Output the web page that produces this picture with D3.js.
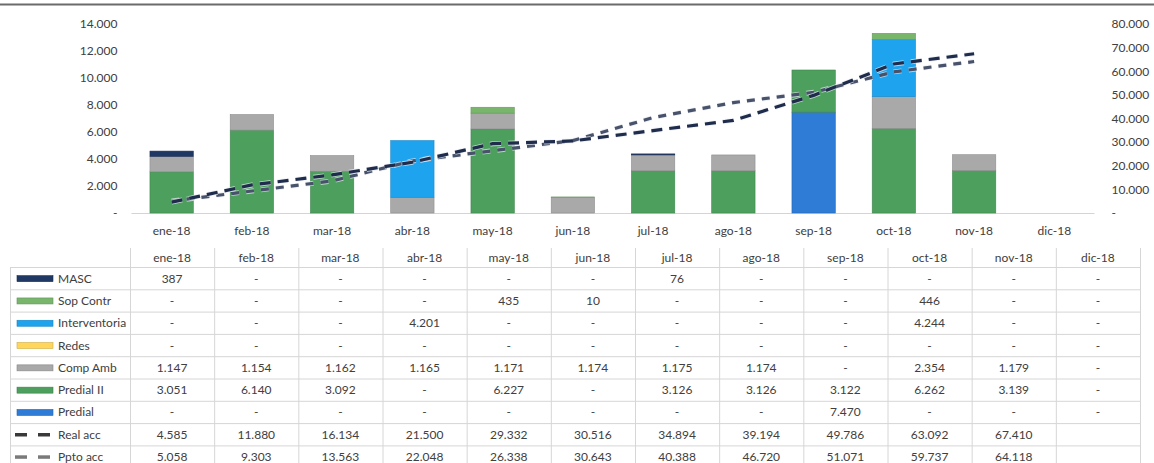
<!DOCTYPE html>
<html>
<head>
<meta charset="utf-8">
<script src="https://cdn.jsdelivr.net/npm/d3@7"></script>
<style>
  body { margin: 0; background: #fff; }
  svg { font-family: Lato, "Open Sans", sans-serif; }
</style>
</head>
<body>
<div id="chart"></div>
<script>
// Monthly execution chart (stacked bars + accumulated lines) with its Excel-style data table

var width = 1154,
    height = 463;

// ---- data ----
var months = ["ene-18", "feb-18", "mar-18", "abr-18", "may-18", "jun-18",
              "jul-18", "ago-18", "sep-18", "oct-18", "nov-18", "dic-18"];

var masc          = [387, 0, 0, 0, 0, 0, 76, 0, 0, 0, 0, 0];
var sopContr      = [0, 0, 0, 0, 435, 10, 0, 0, 0, 446, 0, 0];
var interventoria = [0, 0, 0, 4201, 0, 0, 0, 0, 0, 4244, 0, 0];
var redes         = [0, 0, 0, 0, 0, 0, 0, 0, 0, 0, 0, 0];
var compAmb       = [1147, 1154, 1162, 1165, 1171, 1174, 1175, 1174, 0, 2354, 1179, 0];
var predialII     = [3051, 6140, 3092, 0, 6227, 0, 3126, 3126, 3122, 6262, 3139, 0];
var predial       = [0, 0, 0, 0, 0, 0, 0, 0, 7470, 0, 0, 0];

var realAcc = [4585, 11880, 16134, 21500, 29332, 30516, 34894, 39194, 49786, 63092, 67410, null];
var pptoAcc = [5058, 9303, 13563, 22048, 26338, 30643, 40388, 46720, 51071, 59737, 64118, null];

var leftTicks  = [0, 2000, 4000, 6000, 8000, 10000, 12000, 14000];
var rightTicks = [0, 10000, 20000, 30000, 40000, 50000, 60000, 70000, 80000];

// bar series, bottom of the stack first (Excel order)
var barSeries = [
    {name: "Predial",       values: predial,       color: "#2e7cd6"},
    {name: "Predial II",    values: predialII,     color: "#4d9f5e"},
    {name: "Comp Amb",      values: compAmb,       color: "#a9a9a9"},
    {name: "Redes",         values: redes,         color: "#ffd659"},
    {name: "Interventoria", values: interventoria, color: "#1ea3ef"},
    {name: "Sop Contr",     values: sopContr,      color: "#79b66c"},
    {name: "MASC",          values: masc,          color: "#1f3864"}
];
var lineSeries = [
    {name: "Real acc", values: realAcc, color: "#1f2c4c", dash: "11,7"},
    {name: "Ppto acc", values: pptoAcc, color: "#48526a", dash: "8,7"}
];

// Spanish style numbers: 1.147
var locale = d3.formatLocale({decimal: ",", thousands: ".", grouping: [3], currency: ["$", ""]});
var fmt = locale.format(",.0f");
function cellText(v) {
    if (v === null) return "";
    return v === 0 ? "-" : fmt(v);
}

var svg = d3.select("#chart").
    append("svg").
    attr("width", width).
    attr("height", height);

// scanned frame line at the top
svg.append("line").
    attr("x1", 0).attr("x2", width).
    attr("y1", 4.5).attr("y2", 4.5).
    attr("stroke", "#6b6b6b").
    attr("stroke-width", 2);

// ---- chart part ----
var plotTop = 24, plotBottom = 213;
var x = d3.scaleBand().
    domain(months).
    range([131.5, 1094.5]).
    paddingInner(0.46).
    paddingOuter(0.23);
var yL = d3.scaleLinear().domain([0, 14000]).range([plotBottom, plotTop]);
var yR = d3.scaleLinear().domain([0, 80000]).range([plotBottom, plotTop]);

function xc(m) { return x(m) + x.bandwidth() / 2; }

// axes (no domain line, no tick marks, like Excel)
var axisFmt = function(v) { return v === 0 ? "-" : fmt(v); };
var gL = svg.append("g").
    attr("transform", "translate(131.5,0)").
    call(d3.axisLeft(yL).tickValues(leftTicks).tickSize(0).tickPadding(14).tickFormat(axisFmt));
var gR = svg.append("g").
    attr("transform", "translate(1094.5,0)").
    call(d3.axisRight(yR).tickValues(rightTicks).tickSize(0).tickPadding(17).tickFormat(axisFmt));
[gL, gR].forEach(function(g) {
    g.select(".domain").remove();
    g.selectAll("text").attr("font-size", 12).attr("fill", "#404040").
        attr("font-family", "Lato, 'Open Sans', sans-serif");
});

// category axis
svg.append("line").
    attr("x1", 131.5).attr("x2", 1094.5).
    attr("y1", plotBottom + 0.5).attr("y2", plotBottom + 0.5).
    attr("stroke", "#d4d4d4");
svg.append("g").
    selectAll("text").
    data(months).
    enter().
    append("text").
    attr("x", function(d) { return xc(d); }).
    attr("y", 235).
    attr("text-anchor", "middle").
    attr("font-size", 12).
    attr("fill", "#404040").
    text(function(d) { return d; });

// stacked bars
var rows = months.map(function(m, i) {
    var r = {month: m};
    barSeries.forEach(function(s) { r[s.name] = s.values[i]; });
    return r;
});
var stacked = d3.stack().keys(barSeries.map(function(s) { return s.name; }))(rows);

svg.append("g").
    selectAll("g").
    data(stacked).
    enter().
    append("g").
    attr("fill", function(d, i) { return barSeries[i].color; }).
    attr("stroke", function(d, i) { return d3.color(barSeries[i].color).darker(0.5); }).
    attr("stroke-width", 0.6).
    selectAll("rect").
    data(function(d) { return d.filter(function(p) { return p[1] - p[0] > 0; }); }).
    enter().
    append("rect").
    attr("x", function(d) { return x(d.data.month); }).
    attr("width", x.bandwidth()).
    attr("y", function(d) { return yL(d[1]); }).
    attr("height", function(d) { return yL(d[0]) - yL(d[1]); });

// accumulated lines on the right axis
var line = d3.line().
    defined(function(d) { return d.v !== null; }).
    x(function(d) { return xc(d.m); }).
    y(function(d) { return yR(d.v); });

lineSeries.slice().reverse().forEach(function(s) {
    var pts = months.map(function(m, i) { return {m: m, v: s.values[i]}; });
    svg.append("path").
        attr("d", line(pts)).
        attr("fill", "none").
        attr("stroke", "#e8ecf2").
        attr("stroke-width", 5).
        attr("stroke-dasharray", s.dash).
        attr("opacity", 0.7);
    svg.append("path").
        attr("d", line(pts)).
        attr("fill", "none").
        attr("stroke", s.color).
        attr("stroke-width", 3.2).
        attr("stroke-dasharray", s.dash);
});

// ---- data table ----
var tableLeft = 10, tableRight = 1140, firstCol = 130;
var headerTop = 248, bodyTop = 267.5, rowH = 22.3;
var tx = d3.scaleBand().domain(months).range([firstCol, tableRight]);
var tableRows = barSeries.slice().reverse().concat(lineSeries);
var grid = "#d6d6d6";

var table = svg.append("g");

// grid lines
for (var k = 0; k <= tableRows.length; k++) {
    table.append("line").
        attr("x1", tableLeft).attr("x2", tableRight).
        attr("y1", bodyTop + k * rowH).attr("y2", bodyTop + k * rowH).
        attr("stroke", grid);
}
table.append("line").
    attr("x1", tableLeft + 0.5).attr("x2", tableLeft + 0.5).
    attr("y1", bodyTop).attr("y2", height).
    attr("stroke", grid);
months.concat(["end"]).forEach(function(m, i) {
    var gx = firstCol + i * tx.bandwidth();
    table.append("line").
        attr("x1", gx + 0.5).attr("x2", gx + 0.5).
        attr("y1", headerTop).attr("y2", height).
        attr("stroke", grid);
});

// header
table.selectAll(".hdr").
    data(months).
    enter().
    append("text").
    attr("class", "hdr").
    attr("x", function(d) { return tx(d) + tx.bandwidth() / 2; }).
    attr("y", 262).
    attr("text-anchor", "middle").
    attr("font-size", 12).
    attr("fill", "#404040").
    text(function(d) { return d; });

// one row per series: legend key, name, values
tableRows.forEach(function(s, k) {
    var cy = bodyTop + k * rowH + rowH / 2;
    if (s.dash) {
        [[15, 27], [38, 50]].forEach(function(seg) {
            table.append("line").
                attr("x1", seg[0]).attr("x2", seg[1]).
                attr("y1", cy).attr("y2", cy).
                attr("stroke", s.name === "Real acc" ? "#3a3a3a" : "#7a7a7a").
                attr("stroke-width", 3.5);
        });
    } else {
        table.append("rect").
            attr("x", 17).attr("y", cy - 3).
            attr("width", 36).attr("height", 6).
            attr("fill", s.color).
            attr("stroke", d3.color(s.color).darker(0.6)).
            attr("stroke-width", 0.6);
    }
    table.append("text").
        attr("x", 58).
        attr("y", cy + 4).
        attr("font-size", 12).
        attr("fill", "#404040").
        text(s.name);
    table.selectAll(".v" + k).
        data(s.values).
        enter().
        append("text").
        attr("x", function(d, i) { return tx(months[i]) + tx.bandwidth() / 2; }).
        attr("y", cy + 4).
        attr("text-anchor", "middle").
        attr("font-size", 12).
        attr("fill", "#404040").
        text(function(d) { return cellText(d); });
});
</script>
</body>
</html>
